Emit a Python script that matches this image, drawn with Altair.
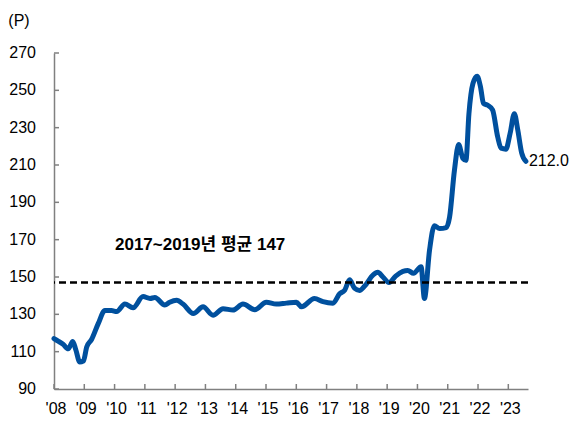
import altair as alt
import pandas as pd

# ---- data ----
years = [2008.0, 2008.15, 2008.3, 2008.47, 2008.62, 2008.72, 2008.85, 2008.97,
         2009.08, 2009.24, 2009.46, 2009.68, 2009.9, 2010.07, 2010.34, 2010.61,
         2010.94, 2011.17, 2011.33, 2011.66, 2011.82, 2012.05, 2012.26, 2012.6,
         2012.92, 2013.25, 2013.58, 2013.91, 2014.24, 2014.63, 2015.01, 2015.34,
         2015.67, 2016.0, 2016.17, 2016.6, 2016.88, 2017.21, 2017.43, 2017.6,
         2017.76, 2017.92, 2018.09, 2018.25, 2018.53, 2018.69, 2018.86, 2019.06,
         2019.28, 2019.52, 2019.68, 2019.87, 2020.12, 2020.23, 2020.4, 2020.56,
         2020.73, 2020.95, 2021.06, 2021.22, 2021.36, 2021.5, 2021.6, 2021.7,
         2021.83, 2021.97, 2022.08, 2022.18, 2022.32, 2022.48, 2022.65, 2022.76,
         2022.92, 2023.06, 2023.2, 2023.31, 2023.44, 2023.58]
values = [117, 115.5, 114, 111.5, 115.5, 111, 104.5, 105,
          112.5, 116.5, 125, 132, 132, 131.5, 135.5, 133.5,
          139.5, 138.5, 139, 135, 136.5, 137.5, 135.5, 130.5,
          134, 129.5, 133, 132.3, 135.5, 132.5, 136.5, 135.5,
          136, 136.5, 134, 138.5, 136.8, 136, 141, 143,
          148.5, 144, 142.8, 145, 151, 152.5, 150, 147,
          150.5, 153, 153.5, 152, 155.5, 138.5, 164.5, 177.5,
          176, 176.5, 182, 207, 221, 213.5, 212.5, 237.5,
          253.5, 257.5, 252, 243, 242, 239.5, 225, 219,
          218.5, 227, 237.5, 229, 216.5, 212]
y_ticks = [90, 110, 130, 150, 170, 190, 210, 230, 250, 270]
x_ticks = list(range(2008, 2024))
x_tick_labels = ["'08", "'09", "'10", "'11", "'12", "'13", "'14", "'15",
                 "'16", "'17", "'18", "'19", "'20", "'21", "'22", "'23"]
avg_value = [147]
avg_label = ["2017~2019년 평균 147"]
last_label = ["212.0"]
unit_label = ["(P)"]

df = pd.DataFrame({"t": years, "v": values})
last = df.tail(1).assign(s=last_label)
yt = pd.DataFrame({"v": y_ticks, "s": [str(v) for v in y_ticks]})
xt = pd.DataFrame({"t": x_ticks, "s": x_tick_labels})

FONT = "Liberation Sans, Arial, Noto Sans CJK KR"
FS = 16
W, H = 474, 336
xs = alt.Scale(domain=[2008, 2023.65], nice=False, zero=False)
ys = alt.Scale(domain=[90, 270], nice=False, zero=False)
ax = alt.Axis(labels=False, ticks=False, grid=False, domainColor="#808080",
              domainWidth=1.5, title=None)

line = alt.Chart(df).mark_line(
    color="#00509E", strokeWidth=5, interpolate="monotone", strokeCap="round"
).encode(
    x=alt.X("t:Q", scale=xs, axis=ax),
    y=alt.Y("v:Q", scale=ys, axis=ax),
)

ytick = alt.Chart(yt).mark_rule(color="#808080", strokeWidth=1.5).encode(
    y=alt.Y("v:Q", scale=ys), x=alt.value(0), x2=alt.value(5))

ylab = alt.Chart(yt).mark_text(
    align="right", baseline="middle", fontSize=FS, font=FONT, color="black"
).encode(y=alt.Y("v:Q", scale=ys), x=alt.value(-18), text="s:N")

xtick = alt.Chart(xt).mark_rule(color="#808080", strokeWidth=1.5).encode(
    x=alt.X("t:Q", scale=xs), y=alt.value(H), y2=alt.value(H - 5))

xlab = alt.Chart(xt).mark_text(
    align="center", baseline="middle", fontSize=FS, font=FONT, color="black", dx=2
).encode(x=alt.X("t:Q", scale=xs), y=alt.value(H + 20), text="s:N")

avg = alt.Chart(pd.DataFrame({"v": avg_value})).mark_rule(
    color="black", strokeWidth=2.5, strokeDash=[7, 4]
).encode(y=alt.Y("v:Q", scale=ys))

avg_text = alt.Chart(pd.DataFrame({"s": avg_label})).mark_text(
    align="left", baseline="middle", fontSize=17, fontWeight="bold", font=FONT, color="black"
).encode(text="s:N", x=alt.value(61), y=alt.value(192))

end_text = alt.Chart(last).mark_text(
    align="left", baseline="middle", dx=3, fontSize=FS, font=FONT, color="black"
).encode(x=alt.X("t:Q", scale=xs), y=alt.Y("v:Q", scale=ys), text="s:N")

unit_text = alt.Chart(pd.DataFrame({"s": unit_label})).mark_text(
    align="center", baseline="middle", fontSize=FS, font=FONT, color="black"
).encode(text="s:N", x=alt.value(-35), y=alt.value(-32))

chart = alt.layer(line, ytick, ylab, xtick, xlab, avg, avg_text, end_text, unit_text).properties(
    width=W, height=H,
    autosize=alt.AutoSizeParams(type="none"),
    padding={"left": 46, "top": 45, "right": 43, "bottom": 27},
).configure_view(stroke=None)

chart.save("out.html", embed_options={"renderer": "svg", "actions": False})
